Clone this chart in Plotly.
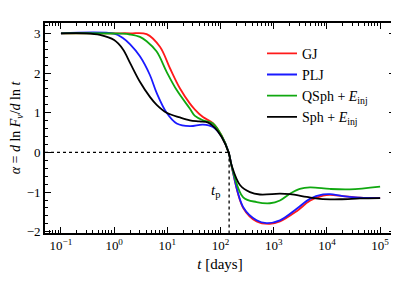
import plotly.graph_objects as go

# ---- data ----
t_gj = [0.1, 1.0, 2.0, 4.08, 7.26, 11.2, 17.3, 26.6, 33, 46.7, 72, 105, 142, 162, 267, 477, 849, 1310, 2700, 4790, 8510, 11400, 20000, 41700, 1e5]
a_gj = [3.0, 3.0, 3.0, 2.98, 2.66, 2.12, 1.61, 1.23, 1.08, 0.89, 0.74, 0.42, 0.0, -0.36, -1.40, -1.74, -1.80, -1.74, -1.48, -1.22, -1.09, -1.07, -1.10, -1.14, -1.15]

t_plj = [0.1, 1.0, 1.46, 2.0, 3.05, 4.7, 6.3, 9.7, 15, 26.6, 46.7, 72, 105, 142, 162, 267, 477, 736, 1310, 2700, 4790, 8510, 11400, 20000, 41700, 1e5]
a_plj = [3.0, 2.99, 2.88, 2.72, 2.42, 1.95, 1.50, 1.0, 0.73, 0.66, 0.70, 0.64, 0.40, 0.0, -0.35, -1.38, -1.71, -1.78, -1.71, -1.42, -1.17, -1.06, -1.05, -1.10, -1.14, -1.15]

t_qsph = [0.1, 1.46, 2.0, 3.05, 4.08, 6.3, 9.7, 15, 26.6, 33, 46.7, 72, 105, 142, 162, 267, 477, 849, 1310, 2018, 3090, 4790, 11400, 26900, 1e5]
a_qsph = [3.0, 2.99, 2.97, 2.91, 2.80, 2.54, 2.03, 1.57, 1.10, 0.92, 0.81, 0.73, 0.42, 0.0, -0.35, -1.13, -1.25, -1.28, -1.21, -1.04, -0.92, -0.88, -0.92, -0.93, -0.86]

t_sph = [0.1, 0.3, 0.54, 1.0, 1.46, 2.0, 3.05, 4.7, 6.3, 9.7, 17.3, 26.6, 40, 58.8, 78.5, 105, 142, 162, 232, 357, 550, 1310, 2018, 4170, 7400, 17500, 41700, 1e5]
a_sph = [3.0, 3.0, 2.96, 2.83, 2.60, 2.25, 1.78, 1.40, 1.20, 1.00, 0.88, 0.81, 0.78, 0.75, 0.62, 0.39, 0.0, -0.33, -0.82, -1.0, -1.06, -1.04, -1.05, -1.12, -1.17, -1.18, -1.16, -1.15]

t_peak = 145
x_ticks = [0.1, 1, 10, 100, 1000, 10000, 100000]
x_ticktext = ["10<sup>−1</sup>", "10<sup>0</sup>", "10<sup>1</sup>", "10<sup>2</sup>", "10<sup>3</sup>", "10<sup>4</sup>", "10<sup>5</sup>"]
y_ticks = [-2, -1, 0, 1, 2, 3]
y_ticktext = ["−2", "−1", "0", "1", "2", "3"]

series = [
    ("GJ", t_gj, a_gj, "#ff1a1a"),
    ("PLJ", t_plj, a_plj, "#1a1aff"),
    ("QSph + <i>E</i><sub>inj</sub>", t_qsph, a_qsph, "#10a810"),
    ("Sph + <i>E</i><sub>inj</sub>", t_sph, a_sph, "#000000"),
]

FONT = "Liberation Serif, serif"
X_MIN_LOG, X_MAX_LOG = -1.3, 5.28
Y_MIN, Y_MAX = -2.03, 3.26

fig = go.Figure()
for name, t, a, c in series:
    fig.add_trace(go.Scatter(x=t, y=a, mode="lines", name=name,
                             line=dict(color=c, width=1.8, shape="spline", smoothing=1.0)))

# dotted guide lines at alpha = 0 and t = t_p
fig.add_trace(go.Scatter(x=[10 ** X_MIN_LOG, t_peak], y=[0, 0], mode="lines",
                         line=dict(color="black", width=1.3, dash="dot"), showlegend=False))
fig.add_trace(go.Scatter(x=[t_peak, t_peak], y=[0, Y_MIN], mode="lines",
                         line=dict(color="black", width=1.3, dash="dot"), showlegend=False))

fig.add_annotation(x=1.9, y=-0.98, xref="x", yref="y", text="<i>t</i><sub>p</sub>",
                   showarrow=False, font=dict(family=FONT, size=15, color="black"))

axis_common = dict(showgrid=False, zeroline=False, showline=True, linecolor="black",
                   linewidth=1.6, ticks="inside", ticklen=6, tickwidth=1.1,
                   tickcolor="black", mirror="allticks", automargin=False,
                   tickfont=dict(family=FONT, size=13, color="black"))

fig.update_xaxes(type="log", range=[X_MIN_LOG, X_MAX_LOG], tickvals=x_ticks, ticktext=x_ticktext,
                 minor=dict(ticks="inside", ticklen=3, tickwidth=1, tickcolor="black", dtick="D1"),
                 title=dict(text="<i>t</i> [days]", font=dict(family=FONT, size=15, color="black"),
                            standoff=6),
                 **axis_common)
fig.update_yaxes(range=[Y_MIN, Y_MAX], tickvals=y_ticks, ticktext=y_ticktext,
                 minor=dict(ticks="inside", ticklen=3, tickwidth=1, tickcolor="black", dtick=0.2),
                 title=dict(text="<i>α</i> = <i>d</i> ln <i>F<sub>ν</sub></i>/<i>d</i> ln <i>t</i>",
                            font=dict(family=FONT, size=14, color="black"), standoff=4),
                 **axis_common)

# the page body has an 8px margin, so the figure is sized/offset to compensate
fig.update_layout(
    width=391, height=276,
    margin=dict(l=37, r=4, t=15, b=51),
    paper_bgcolor="white", plot_bgcolor="white",
    font=dict(family=FONT, color="black"),
    legend=dict(x=0.62, y=0.93, xanchor="left", yanchor="top", bgcolor="rgba(0,0,0,0)",
                font=dict(family=FONT, size=14, color="black"), itemwidth=30,
                tracegroupgap=0),
)

fig.write_html("out.html")
